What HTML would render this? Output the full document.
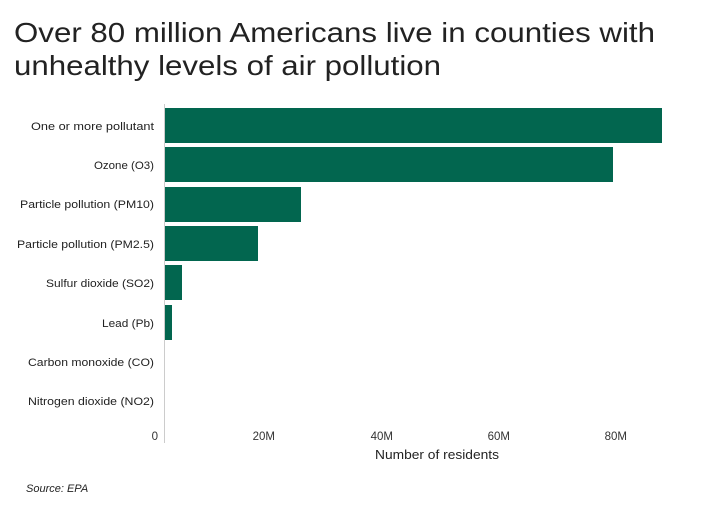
<!DOCTYPE html>
<html><head><meta charset="utf-8"><style>
body{margin:0;background:#fff;width:725px;height:506px;overflow:hidden}
</style></head><body>
<svg width="725" height="506" xmlns="http://www.w3.org/2000/svg" font-family="Liberation Sans, sans-serif">
<text x="14" y="42" font-size="28" fill="#222" textLength="641" lengthAdjust="spacingAndGlyphs">Over 80 million Americans live in counties with</text>
<text x="14" y="75" font-size="28" fill="#222" textLength="427" lengthAdjust="spacingAndGlyphs">unhealthy levels of air pollution</text>
<line x1="164.5" y1="104" x2="164.5" y2="443" stroke="#ccc" stroke-width="1"/>
<g fill="#02664f">
<rect x="165" y="108" width="497" height="35"/>
<rect x="165" y="147" width="448" height="35"/>
<rect x="165" y="187" width="136" height="35"/>
<rect x="165" y="226" width="93" height="35"/>
<rect x="165" y="265" width="17" height="35"/>
<rect x="165" y="305" width="7" height="35"/>
</g>
<g font-size="11" fill="#222" text-anchor="end">
<text x="154" y="130" textLength="123" lengthAdjust="spacingAndGlyphs">One or more pollutant</text>
<text x="154" y="169" textLength="60" lengthAdjust="spacingAndGlyphs">Ozone (O3)</text>
<text x="154" y="208" textLength="134" lengthAdjust="spacingAndGlyphs">Particle pollution (PM10)</text>
<text x="154" y="248" textLength="137" lengthAdjust="spacingAndGlyphs">Particle pollution (PM2.5)</text>
<text x="154" y="287" textLength="108" lengthAdjust="spacingAndGlyphs">Sulfur dioxide (SO2)</text>
<text x="154" y="327" textLength="52" lengthAdjust="spacingAndGlyphs">Lead (Pb)</text>
<text x="154" y="366" textLength="126" lengthAdjust="spacingAndGlyphs">Carbon monoxide (CO)</text>
<text x="154" y="405" textLength="126" lengthAdjust="spacingAndGlyphs">Nitrogen dioxide (NO2)</text>
</g>
<g font-size="11.5" fill="#333" text-anchor="end">
<text x="158" y="440">0</text>
<text x="275" y="440">20M</text>
<text x="393" y="440">40M</text>
<text x="510" y="440">60M</text>
<text x="627" y="440">80M</text>
</g>
<text x="437" y="459" font-size="12.5" fill="#222" text-anchor="middle" textLength="124" lengthAdjust="spacingAndGlyphs">Number of residents</text>
<text x="26" y="492" font-size="11" font-style="italic" fill="#222">Source: EPA</text>
</svg>
</body></html>
